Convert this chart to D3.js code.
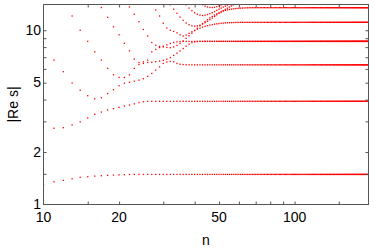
<!DOCTYPE html>
<html>
<head>
<meta charset="utf-8">
<script src="https://cdn.jsdelivr.net/npm/d3@7"></script>
<style>
  html, body { margin: 0; padding: 0; background: #fff; }
  svg { display: block; }
  text { font-family: "Liberation Sans", Arial, sans-serif; fill: #000; }
</style>
</head>
<body>
<svg id="chart" width="374" height="250"></svg>
<script>
// ---- data ----
const xTickLabels = [10, 20, 50, 100];
const xMinorTicks = [15, 20, 30, 40, 50, 60, 70, 80, 90, 100, 150];
const yTickLabels = [1, 2, 5, 10];
const yMinorTicks = [1.5, 2, 3, 4, 5, 6, 7, 8, 9, 10];
const nRange = [10, 197];
const yRange = [1, 14.05];
const nLast = 197;

// first n of each branch
const branchStart = [10, 11, 11, 13, 17, 22, 27, 32, 37, 43];
// level each branch settles on (null = leaves the plot at the top)
const branchPlateau = [1.488, 3.91, 6.33, 8.63, 8.63, 13.47, 11.1, null, null, null];

const branch1 = [1.30, 1.35, 1.375, 1.405, 1.43, 1.443, 1.455, 1.462, 1.47, 1.475, 1.48, 1.483, 1.486];
const branch2 = [2.74, 2.76, 2.86, 2.98, 3.14, 3.29, 3.39, 3.49, 3.55, 3.61, 3.67, 3.72, 3.78, 3.85, 3.89, 3.91];
const branch3 = [6.74, 5.78, 4.98, 4.53, 4.21, 4.04, 4.10, 4.33, 4.56, 4.80, 4.97, 5.03, 5.10, 5.17, 5.27, 5.43,
                 5.65, 5.90, 6.16, 6.45, 6.58, 6.62, 6.59, 6.45, 6.38, 6.35, 6.34];
const branch4 = [12.07, 10.0, 8.63, 7.52, 6.74, 6.04, 5.55, 5.36, 5.36, 5.55, 6.04, 6.36, 6.45, 6.53, 6.55, 6.60,
                 6.66, 6.72, 6.82, 6.97, 7.17, 7.38, 7.60, 7.85, 8.10, 8.32, 8.48, 8.57, 8.61];
const branch5 = [13.5, 11.86, 10.47, 9.42, 8.41, 7.62, 6.83, 6.53, 6.59, 6.74, 7.52, 7.76, 7.95, 8.10, 8.25,
                 8.40, 8.50, 8.58, 8.61];
const branch6 = [13.6, 12.35, 11.19, 10.1, 9.26, 8.5, 8.2, 8.08, 8.02, 7.97, 7.94, 8.02, 8.18, 8.4, 8.68, 8.98,
                 9.3, 9.62, 9.95, 10.28, 10.6, 10.92, 11.22, 11.5, 11.76, 12.0, 12.22, 12.42, 12.6, 12.75, 12.88,
                 12.99, 13.08, 13.16, 13.22, 13.27, 13.31, 13.34, 13.37, 13.39, 13.41, 13.43, 13.44, 13.45, 13.46];
const branch7 = [14.1, 13.06, 12.07, 10.96, 10.3, 10.0, 9.85, 9.67, 9.42, 9.26, 9.4, 9.6, 9.8, 9.98, 10.14,
                 10.28, 10.41, 10.52, 10.62, 10.7, 10.77, 10.83, 10.88, 10.92, 10.96, 10.99, 11.01, 11.03, 11.05,
                 11.06, 11.07, 11.08, 11.09, 11.09];
const branch8 = [14.0, 13.2, 12.5, 11.9, 11.4, 11.0, 10.75, 10.6, 10.55, 10.6, 10.7, 10.85, 11.05, 11.25, 11.5,
                 11.75, 12.0, 12.25, 12.5, 12.72, 12.95, 13.17, 13.38, 13.58, 13.78, 13.96];
const branch9 = [14.0, 13.4, 12.95, 12.6, 12.35, 12.2, 12.15, 12.2, 12.3, 12.45, 12.62, 12.8, 13.0, 13.2, 13.4,
                 13.58, 13.76, 13.94];
const branch10 = [14.0, 13.75, 13.6, 13.52, 13.5, 13.55, 13.65, 13.8, 13.95];
const branches = [branch1, branch2, branch3, branch4, branch5, branch6, branch7, branch8, branch9, branch10];

// ---- layout ----
const mLeft = 43.5, mRight = 368.5, mTop = 4.5, mBottom = 204.5;
const svg = d3.select("#chart");
const x = d3.scaleLog().domain(nRange).range([mLeft, mRight]);
const y = d3.scaleLog().domain(yRange).range([mBottom, mTop]);

// build points (each integer n of each branch)
const points = [];
branches.forEach((vals, b) => {
  vals.forEach((v, i) => points.push({ n: branchStart[b] + i, v }));
  const p = branchPlateau[b];
  if (p !== null) {
    for (let n = branchStart[b] + vals.length; n <= nLast; n++) points.push({ n, v: p });
  }
});

svg.append("defs").append("clipPath").attr("id", "plotclip")
  .append("rect").attr("x", mLeft).attr("y", mTop)
  .attr("width", mRight - mLeft).attr("height", mBottom - mTop);

svg.append("g").attr("clip-path", "url(#plotclip)")
  .selectAll("rect").data(points.filter(d => d.v <= yRange[1])).join("rect")
  .attr("x", d => x(d.n) - 0.65)
  .attr("y", d => y(d.v) - 0.65)
  .attr("width", 1.3).attr("height", 1.3)
  .attr("fill", "#ff0000");

// axes (ticks inward on all sides)
const tickLen = 3;
const fmt = () => "";
const axB = d3.axisBottom(x).tickValues(xMinorTicks).tickSize(-tickLen).tickFormat(fmt);
const axT = d3.axisTop(x).tickValues(xMinorTicks).tickSize(-tickLen).tickFormat(fmt);
const axL = d3.axisLeft(y).tickValues(yMinorTicks).tickSize(-tickLen).tickFormat(fmt);
const axR = d3.axisRight(y).tickValues(yMinorTicks).tickSize(-tickLen).tickFormat(fmt);

function style(g) {
  g.select(".domain").remove();
  g.selectAll(".tick line").attr("stroke", "#555").attr("stroke-width", 1);
}
svg.append("g").attr("transform", `translate(0,${mBottom})`).call(axB).call(style);
svg.append("g").attr("transform", `translate(0,${mTop})`).call(axT).call(style);
svg.append("g").attr("transform", `translate(${mLeft},0)`).call(axL).call(style);
svg.append("g").attr("transform", `translate(${mRight},0)`).call(axR).call(style);

svg.append("rect").attr("x", mLeft).attr("y", mTop)
  .attr("width", mRight - mLeft).attr("height", mBottom - mTop)
  .attr("fill", "none").attr("stroke", "#555").attr("stroke-width", 1);

// tick labels
svg.append("g").selectAll("text").data(xTickLabels).join("text")
  .attr("x", d => x(d)).attr("y", 222)
  .attr("text-anchor", "middle").attr("font-size", 14)
  .text(d => d);
svg.append("g").selectAll("text").data(yTickLabels).join("text")
  .attr("x", 41).attr("y", d => y(d) + 4.5)
  .attr("text-anchor", "end").attr("font-size", 14)
  .text(d => d);

// axis titles
svg.append("text").attr("x", (mLeft + mRight) / 2).attr("y", 245)
  .attr("text-anchor", "middle").attr("font-size", 14).text("n");
svg.append("text").attr("transform", `translate(18,${(mTop + mBottom) / 2}) rotate(-90)`)
  .attr("text-anchor", "middle").attr("font-size", 14).text("|Re s|");
</script>
</body>
</html>
